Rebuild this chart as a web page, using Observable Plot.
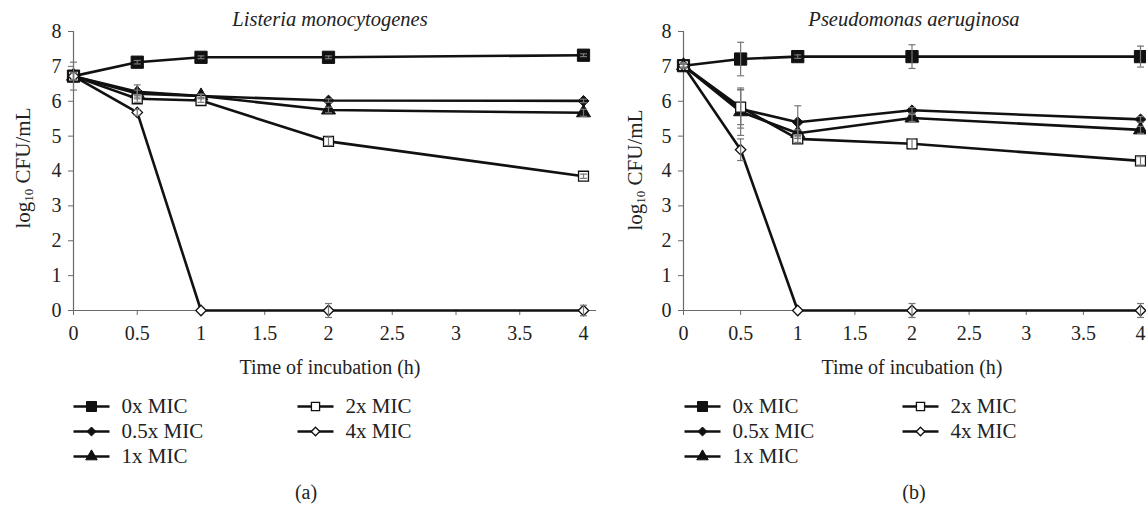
<!DOCTYPE html>
<html><head><meta charset="utf-8">
<script src="https://cdn.jsdelivr.net/npm/d3@7"></script>
<script src="https://cdn.jsdelivr.net/npm/@observablehq/plot@0.6"></script>
<style>
html,body{margin:0;padding:0;background:#fff;}
#wrap{position:relative;width:1146px;height:506px;overflow:hidden;font-family:"Liberation Serif",serif;color:#222;}
.abs{position:absolute;white-space:nowrap;transform:translate(-50%,-50%);line-height:1;}
.title{font-style:italic;font-size:20.5px;}
.xlab{font-size:20px;}
.ylab{font-size:21px;transform:translate(-50%,-50%) rotate(-90deg);}
.ylab sub{font-size:13px;vertical-align:-3px;}
.cap{font-size:20px;}
.panel{position:absolute;top:0;}
</style></head>
<body><div id="wrap"></div>
<script>
// ---- data ----
const times = [0, 0.5, 1, 2, 4];
const seriesNames = ["0x MIC", "0.5x MIC", "1x MIC", "2x MIC", "4x MIC"];
const xTicks = [0, 0.5, 1, 1.5, 2, 2.5, 3, 3.5, 4];
const yTicks = [0, 1, 2, 3, 4, 5, 6, 7, 8];

// Listeria monocytogenes (log10 CFU/mL)
const lm_0x  = [6.72, 7.12, 7.26, 7.26, 7.32];
const lm_05x = [6.72, 6.27, 6.15, 6.02, 6.01];
const lm_1x  = [6.72, 6.22, 6.15, 5.75, 5.67];
const lm_2x  = [6.72, 6.07, 6.02, 4.85, 3.85];
const lm_4x  = [6.72, 5.68, 0, 0, 0];
const lm_0x_sd  = [0.40, 0.05, 0.04, 0.04, 0.04];
const lm_05x_sd = [0.10, 0.20, 0.05, 0.05, 0.05];
const lm_1x_sd  = [0.10, 0.10, 0.05, 0.08, 0.10];
const lm_2x_sd  = [0.10, 0.10, 0.05, 0.12, 0.06];
const lm_4x_sd  = [0.10, 0.08, 0.00, 0.20, 0.15];

// Pseudomonas aeruginosa (log10 CFU/mL)
const pa_0x  = [7.02, 7.21, 7.28, 7.28, 7.28];
const pa_05x = [7.02, 5.78, 5.40, 5.74, 5.48];
const pa_1x  = [7.02, 5.70, 5.08, 5.52, 5.18];
const pa_2x  = [7.02, 5.83, 4.92, 4.78, 4.29];
const pa_4x  = [7.02, 4.61, 0, 0, 0];
const pa_0x_sd  = [0.08, 0.48, 0.05, 0.34, 0.30];
const pa_05x_sd = [0.05, 0.55, 0.47, 0.08, 0.08];
const pa_1x_sd  = [0.05, 0.68, 0.10, 0.10, 0.10];
const pa_2x_sd  = [0.05, 0.50, 0.10, 0.15, 0.12];
const pa_4x_sd  = [0.05, 0.31, 0.00, 0.20, 0.20];

// ---- styles per series ----
const styles = [
  {symbol: "square",   fill: "#111", stroke: "#111", r: 6.9, sw: 1},
  {symbol: "diamond2", fill: "#111", stroke: "#111", r: 4.9, sw: 1},
  {symbol: "triangle", fill: "#111", stroke: "#111", r: 5.2, sw: 1},
  {symbol: "square",   fill: "#fff", stroke: "#111", r: 5.6, sw: 1.3},
  {symbol: "diamond2", fill: "#fff", stroke: "#111", r: 4.7, sw: 1.3}
];
const capSymbol = {draw(ctx) { ctx.moveTo(-3.5, 0); ctx.lineTo(3.5, 0); }};
const lineSymbol = {draw(ctx) { ctx.moveTo(-18, 0); ctx.lineTo(18, 0); }};

function rowsOf(vals, sds) {
  const rows = [];
  seriesNames.forEach((s, i) => times.forEach((t, j) =>
    rows.push({series: s, idx: i, t, v: vals[i][j], e: sds[i][j]})));
  return rows;
}

function panel(rows, w, mL, mR) {
  const errs = rows.filter(d => d.e > 0);
  const marks = [
    Plot.ruleX([0], {stroke: "#6a6a6a", strokeWidth: 1.2}),
    Plot.ruleY([0], {stroke: "#6a6a6a", strokeWidth: 1.2, insetLeft: -4, insetRight: -13}),
    Plot.axisX({ticks: xTicks, tickSize: 5, tickPadding: 10, stroke: "#6a6a6a", label: null, tickFormat: d => String(d)}),
    Plot.axisY({ticks: yTicks, tickSize: 5, tickPadding: 7, stroke: "#6a6a6a", label: null}),
    Plot.line(rows, {x: "t", y: "v", z: "series", stroke: "#111", strokeWidth: 2.6})
  ];
  styles.forEach((st, i) => {
    marks.push(Plot.dot(rows.filter(d => d.idx === i), {x: "t", y: "v", symbol: () => st.symbol,
      r: st.r, fill: st.fill, stroke: st.stroke, strokeWidth: st.sw}));
  });
  marks.push(Plot.ruleX(errs, {x: "t", y1: d => d.v - d.e, y2: d => d.v + d.e, stroke: "#777", strokeWidth: 1.2}));
  marks.push(Plot.dot(errs, {x: "t", y: d => d.v + d.e, symbol: capSymbol, r: 3, stroke: "#777", strokeWidth: 1.2, fill: "none"}));
  marks.push(Plot.dot(errs, {x: "t", y: d => d.v - d.e, symbol: capSymbol, r: 3, stroke: "#777", strokeWidth: 1.2, fill: "none"}));
  return Plot.plot({
    width: w, height: 345,
    marginLeft: mL, marginRight: mR, marginTop: 31, marginBottom: 35,
    x: {type: "linear", domain: [0, 4]},
    y: {type: "linear", domain: [0, 8]},
    symbol: {type: "identity"},
    style: {fontFamily: "Liberation Serif, serif", fontSize: "20px", color: "#222", background: "transparent", overflow: "visible"},
    marks
  });
}

function legend(colGap) {
  const items = seriesNames.map((s, i) => ({s, i, col: i < 3 ? 0 : 1, row: i < 3 ? i : i - 3}));
  return Plot.plot({
    width: 420, height: 80, margin: 0,
    x: {type: "point", domain: [0, 1], range: [18, 18 + colGap], padding: 0},
    y: {type: "point", domain: [0, 1, 2], range: [12, 62], padding: 0},
    symbol: {type: "identity"},
    axis: null,
    style: {fontFamily: "Liberation Serif, serif", fontSize: "21px", color: "#222", background: "transparent", overflow: "visible"},
    marks: [
      Plot.dot(items, {x: "col", y: "row", symbol: () => lineSymbol, r: 3, stroke: "#111", strokeWidth: 2.6, fill: "none"}),
      ...styles.map((st, i) => Plot.dot(items.filter(d => d.i === i), {x: "col", y: "row", symbol: () => st.symbol,
        r: st.r * 0.82, fill: st.fill, stroke: st.stroke, strokeWidth: st.sw})),
      Plot.text(items, {x: "col", y: "row", text: "s", textAnchor: "start", dx: 30, fill: "#222"})
    ]
  });
}

const wrap = document.getElementById("wrap");
function place(el, left, top) { el.classList.add("panel"); el.style.left = left + "px"; el.style.top = top + "px"; wrap.appendChild(el); }
function label(html, cls, x, y) { const d = document.createElement("div"); d.className = "abs " + cls; d.innerHTML = html; d.style.left = x + "px"; d.style.top = y + "px"; wrap.appendChild(d); }

const lmRows = rowsOf([lm_0x, lm_05x, lm_1x, lm_2x, lm_4x], [lm_0x_sd, lm_05x_sd, lm_1x_sd, lm_2x_sd, lm_4x_sd]);
const paRows = rowsOf([pa_0x, pa_05x, pa_1x, pa_2x, pa_4x], [pa_0x_sd, pa_05x_sd, pa_1x_sd, pa_2x_sd, pa_4x_sd]);

place(panel(lmRows, 600, 73, 17), 0, 0);
place(panel(paRows, 546, 83, 6), 600, 0);

place(legend(224), 73, 394);
place(legend(218), 684, 394);

label("Listeria monocytogenes", "title", 330, 19);
label("Pseudomonas aeruginosa", "title", 914, 19);
label("log<sub>10</sub> CFU/mL", "ylab", 24, 168);
label("log<sub>10</sub> CFU/mL", "ylab", 636, 170);
label("Time of incubation (h)", "xlab", 330, 367);
label("Time of incubation (h)", "xlab", 912, 367);
label("(a)", "cap", 306, 492);
label("(b)", "cap", 914, 492);
</script>
</body></html>
